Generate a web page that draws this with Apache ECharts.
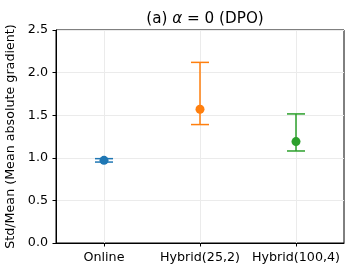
<!DOCTYPE html>
<html><head><meta charset="utf-8">
<script src="https://cdn.jsdelivr.net/npm/echarts@6/dist/echarts.min.js"></script>
<style>html,body{margin:0;padding:0;background:#fff}#c{width:353px;height:275px}</style>
</head><body><div id="c"></div>
<script>
const categories = ['Online', 'Hybrid(25,2)', 'Hybrid(100,4)'];
const means = [0.97, 1.57, 1.19];
const lows = [0.95, 1.39, 1.08];
const highs = [0.99, 2.12, 1.515];
const colors = ['#1f77b4', '#ff7f0e', '#2ca02c'];
const yTicks = [0.0, 0.5, 1.0, 1.5, 2.0, 2.5];

const chart = echarts.init(document.getElementById('c'), null, {renderer: 'canvas'});
const font = 'DejaVu Sans';
const fs = 12.7;
chart.setOption({
  animation: false,
  title: {
    text: '{n|(a) }{i|α}{n| = 0 (DPO)}',
    left: 200, top: 7, textAlign: 'center',
    textStyle: { fontWeight: 'normal', rich: {
      n: {fontFamily: font, fontSize: 15.2, fontWeight: 'normal', color: '#000'},
      i: {fontFamily: font, fontSize: 15.2, fontWeight: 'normal', fontStyle: 'italic', color: '#000'}
    }}
  },
  grid: {left: 56, right: 9, top: 30, bottom: 32, containLabel: false, outerBoundsMode: 'none',
    show: true, borderColor: '#000', borderWidth: 1, backgroundColor: 'transparent'},
  xAxis: {
    type: 'category', data: categories, boundaryGap: true,
    axisLine: {show: true, lineStyle: {color: '#000', width: 1}},
    axisTick: {show: true, alignWithLabel: true, length: 3.5, lineStyle: {color: '#000'}},
    axisLabel: {fontFamily: font, fontSize: fs, color: '#000', margin: 8, interval: 0},
    splitLine: {show: false}
  },
  yAxis: {
    type: 'value', min: 0, max: 2.5, interval: 0.5,
    name: 'Std/Mean (Mean absolute gradient)', nameLocation: 'middle', nameGap: 33,
    nameTextStyle: {fontFamily: font, fontSize: fs, color: '#000'},
    axisLine: {show: true, lineStyle: {color: '#000', width: 1}},
    axisTick: {show: true, length: 3.5, lineStyle: {color: '#000'}},
    axisLabel: {fontFamily: font, fontSize: fs, color: '#000', margin: 8,
      formatter: v => { const t = yTicks.find(x => Math.abs(x - v) < 1e-9); return (t !== undefined ? t : v).toFixed(1); }},
    splitLine: {show: true, lineStyle: {color: '#ebebeb', width: 1}}
  },
  series: [
    {
      type: 'custom', silent: true, z: 3,
      data: categories.map((c, i) => [i, lows[i], highs[i]]),
      renderItem: function (params, api) {
        const i = api.value(0);
        const lo = api.coord([i, api.value(1)]);
        const hi = api.coord([i, api.value(2)]);
        const hw = 9;
        const st = {stroke: colors[i], lineWidth: 1.5};
        return {type: 'group', children: [
          {type: 'line', shape: {x1: lo[0], y1: lo[1], x2: hi[0], y2: hi[1]}, style: st},
          {type: 'line', shape: {x1: lo[0] - hw, y1: lo[1], x2: lo[0] + hw, y2: lo[1]}, style: st},
          {type: 'line', shape: {x1: hi[0] - hw, y1: hi[1], x2: hi[0] + hw, y2: hi[1]}, style: st}
        ]};
      }
    },
    {
      type: 'scatter', z: 4, symbol: 'circle', symbolSize: 9, silent: true,
      data: means.map((m, i) => ({value: [i, m], itemStyle: {color: colors[i], opacity: 1}})),
      markLine: {
        silent: true, symbol: 'none', label: {show: false}, z: 0,
        lineStyle: {color: '#ebebeb', width: 1, type: 'solid'},
        data: categories.map(c => ({xAxis: c}))
      }
    }
  ]
});
</script></body></html>
